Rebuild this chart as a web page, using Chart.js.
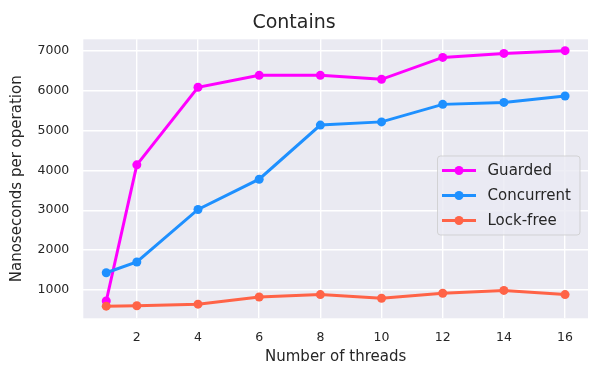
<!DOCTYPE html>
<html>
<head>
<meta charset="utf-8">
<script src="https://cdn.jsdelivr.net/npm/chart.js@4.4.0/dist/chart.umd.min.js"></script>
<style>
  html, body { margin: 0; padding: 0; background: #ffffff; }
  #wrap { width: 613px; height: 385px; }
</style>
</head>
<body>
<div id="wrap"><canvas id="mycanvas" width="613" height="385"></canvas></div>
<script>
var threads = [1, 2, 4, 6, 8, 10, 12, 14, 16];
var guarded = [720, 4140, 6090, 6390, 6390, 6290, 6840, 6940, 7010];
var concurrent = [1430, 1700, 3020, 3780, 5140, 5220, 5660, 5710, 5870];
var lockFree = [590, 600, 640, 820, 880, 790, 915, 985, 880];
var seriesNames = ['Guarded', 'Concurrent', 'Lock-free'];
var seriesColors = ['#ff00ff', '#1e90ff', '#ff6347'];
var xTicks = [2, 4, 6, 8, 10, 12, 14, 16];
var yTicks = [1000, 2000, 3000, 4000, 5000, 6000, 7000];

var FONT = "'DejaVu Sans', sans-serif";
var TEXT = '#262626';

function points(ys) {
  var out = [];
  for (var i in threads) {
    out.push({x: threads[i], y: ys[i]});
  }
  return out;
}

// grey plot background like seaborn darkgrid
var plotBg = {
  id: 'plotBg',
  beforeDraw: function(chart) {
    var a = chart.chartArea, c = chart.ctx;
    c.save();
    c.fillStyle = '#eaeaf2';
    c.fillRect(a.left, a.top, a.right - a.left, a.bottom - a.top);
    c.restore();
  }
};

// legend box drawn inside the plot, centre right
var boxLegend = {
  id: 'boxLegend',
  afterDraw: function(chart) {
    var a = chart.chartArea, c = chart.ctx;
    var w = 142.5, h = 79, r = 3;
    var x = a.right - 8 - w, y = a.top + 116.7;
    c.save();
    c.beginPath();
    c.moveTo(x + r, y);
    c.arcTo(x + w, y, x + w, y + h, r);
    c.arcTo(x + w, y + h, x, y + h, r);
    c.arcTo(x, y + h, x, y, r);
    c.arcTo(x, y, x + w, y, r);
    c.closePath();
    c.fillStyle = 'rgba(234,234,242,0.8)';
    c.fill();
    c.strokeStyle = 'rgba(204,204,204,0.8)';
    c.lineWidth = 1;
    c.stroke();
    c.font = '15px ' + FONT;
    c.textBaseline = 'middle';
    for (var i = 0; i < seriesNames.length; i++) {
      var ry = y + 14.5 + i * 25;
      c.strokeStyle = seriesColors[i];
      c.lineWidth = 3;
      c.beginPath();
      c.moveTo(x + 4.5, ry);
      c.lineTo(x + 38.5, ry);
      c.stroke();
      c.fillStyle = seriesColors[i];
      c.beginPath();
      c.arc(x + 21.5, ry, 4.5, 0, Math.PI * 2);
      c.fill();
      c.fillStyle = TEXT;
      c.fillText(seriesNames[i], x + 50, ry + 1);
    }
    c.restore();
  }
};

var chartdata = {
  datasets: [
    {label: seriesNames[0], data: points(guarded), order: 3},
    {label: seriesNames[1], data: points(concurrent), order: 2},
    {label: seriesNames[2], data: points(lockFree), order: 1}
  ].map(function(d, i) {
    d.borderColor = seriesColors[i];
    d.backgroundColor = seriesColors[i];
    d.pointBackgroundColor = seriesColors[i];
    d.borderWidth = 3;
    d.pointRadius = 4.5;
    d.pointBorderWidth = 0;
    d.tension = 0;
    return d;
  })
};

var ctx = document.getElementById('mycanvas');
var lineGraph = new Chart(ctx, {
  type: 'line',
  data: chartdata,
  plugins: [plotBg, boxLegend],
  options: {
    responsive: false,
    animation: false,
    devicePixelRatio: 1,
    layout: {padding: {left: 0, right: 25, top: 0, bottom: 0}},
    plugins: {
      legend: {display: false},
      tooltip: {enabled: false},
      title: {
        display: true,
        text: 'Contains',
        color: TEXT,
        font: {family: FONT, size: 19, weight: 'normal'},
        padding: {top: 11.4, bottom: 5.1}
      }
    },
    scales: {
      x: {
        type: 'linear',
        min: 0.25,
        max: 16.75,
        afterBuildTicks: function(scale) {
          scale.ticks = xTicks.map(function(v) { return {value: v}; });
        },
        afterFit: function(scale) { scale.height = 66.7; },
        grid: {color: '#ffffff', lineWidth: 1.4, drawTicks: false},
        border: {display: false},
        ticks: {
          color: TEXT,
          font: {family: FONT, size: 12.5},
          padding: 12,
          maxRotation: 0,
          callback: function(v) { return String(v); }
        },
        title: {
          display: true,
          text: 'Number of threads',
          color: TEXT,
          font: {family: FONT, size: 15},
          padding: {top: 0, bottom: 18.5}
        }
      },
      y: {
        min: 285,
        max: 7295,
        afterBuildTicks: function(scale) {
          scale.ticks = yTicks.map(function(v) { return {value: v}; });
        },
        afterFit: function(scale) { scale.width = 83.3; },
        grid: {color: '#ffffff', lineWidth: 1.4, drawTicks: false},
        border: {display: false},
        ticks: {
          color: TEXT,
          font: {family: FONT, size: 12.5},
          padding: 14,
          callback: function(v) { return String(v); }
        },
        title: {
          display: true,
          text: 'Nanoseconds per operation',
          color: TEXT,
          font: {family: FONT, size: 15},
          padding: {top: 8.5, bottom: 0}
        }
      }
    }
  }
});
</script>
</body>
</html>
